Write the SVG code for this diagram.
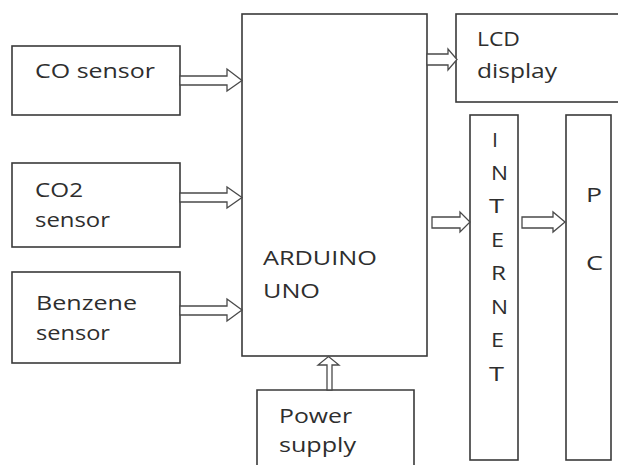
<svg xmlns="http://www.w3.org/2000/svg" width="618" height="465" viewBox="0 0 618 465">
<style>
.box{fill:#fff;stroke:#3a3a3a;stroke-width:1.6}
.arr{fill:#fff;stroke:#4a4a4a;stroke-width:1.3;stroke-linejoin:miter}
.t{font-family:"Open Sans","DejaVu Sans",sans-serif;font-size:20px;fill:#2e2e2e}
</style>
<rect width="618" height="465" fill="#fff"/>
<g id="co-sensor">
<rect class="box" x="12" y="46" width="168" height="69"/>
<text class="t" x="35" y="78" textLength="120" lengthAdjust="spacingAndGlyphs">CO sensor</text>
</g>
<g id="co2-sensor">
<rect class="box" x="12" y="163" width="168" height="84"/>
<text class="t" x="35" y="197" textLength="48" lengthAdjust="spacingAndGlyphs">CO2</text>
<text class="t" x="35" y="227" textLength="75" lengthAdjust="spacingAndGlyphs">sensor</text>
</g>
<g id="benzene-sensor">
<rect class="box" x="12" y="272" width="168" height="91"/>
<text class="t" x="36" y="310" textLength="101" lengthAdjust="spacingAndGlyphs">Benzene</text>
<text class="t" x="36" y="340" textLength="74" lengthAdjust="spacingAndGlyphs">sensor</text>
</g>
<g id="arduino">
<rect class="box" x="242" y="14" width="185" height="342"/>
<text class="t" x="263" y="265" textLength="114" lengthAdjust="spacingAndGlyphs">ARDUINO</text>
<text class="t" x="263" y="298" textLength="57" lengthAdjust="spacingAndGlyphs">UNO</text>
</g>
<g id="lcd">
<rect class="box" x="456" y="14" width="170" height="88"/>
<text class="t" x="477" y="46" textLength="43" lengthAdjust="spacingAndGlyphs">LCD</text>
<text class="t" x="477" y="78" textLength="80" lengthAdjust="spacingAndGlyphs">display</text>
</g>
<g id="power-supply">
<path class="box" d="M257,470 V390 H414 V470"/>
<text class="t" x="279" y="423" textLength="73" lengthAdjust="spacingAndGlyphs">Power</text>
<text class="t" x="279" y="452" textLength="77" lengthAdjust="spacingAndGlyphs">supply</text>
</g>
<g id="internet">
<rect class="box" x="470" y="115" width="48" height="345"/>
<text class="t" x="492" y="147" textLength="6" lengthAdjust="spacingAndGlyphs">I</text>
<text class="t" x="491" y="180" textLength="17" lengthAdjust="spacingAndGlyphs">N</text>
<text class="t" x="489" y="213" textLength="15" lengthAdjust="spacingAndGlyphs">T</text>
<text class="t" x="491" y="247" textLength="13" lengthAdjust="spacingAndGlyphs">E</text>
<text class="t" x="491" y="280" textLength="15" lengthAdjust="spacingAndGlyphs">R</text>
<text class="t" x="491" y="314" textLength="17" lengthAdjust="spacingAndGlyphs">N</text>
<text class="t" x="491" y="347" textLength="13" lengthAdjust="spacingAndGlyphs">E</text>
<text class="t" x="489" y="381" textLength="15" lengthAdjust="spacingAndGlyphs">T</text>
</g>
<g id="pc">
<rect class="box" x="566" y="115" width="45" height="345"/>
<text class="t" x="586" y="202" textLength="16" lengthAdjust="spacingAndGlyphs">P</text>
<text class="t" x="586" y="270" textLength="17" lengthAdjust="spacingAndGlyphs">C</text>
</g>
<g id="connectors">
<polygon class="arr" points="180,76 227,76 227,69 242,80.5 227,91 227,85 180,85"/>
<polygon class="arr" points="180,193 227,193 227,187 242,197.5 227,208 227,202 180,202"/>
<polygon class="arr" points="180,306 227,306 227,299 242,310 227,321 227,315 180,315"/>
<polygon class="arr" points="427,54 448,54 448,49 457,59.5 448,70 448,65 427,65"/>
<polygon class="arr" points="432,217 460,217 460,212 470,222 460,232 460,228 432,228"/>
<polygon class="arr" points="522,217 553,217 553,212 565,222 553,232 553,228 522,228"/>
<polygon class="arr" points="327,390 327,365 318,365 328.5,356.5 339,365 332,365 332,390"/>
</g>
</svg>
